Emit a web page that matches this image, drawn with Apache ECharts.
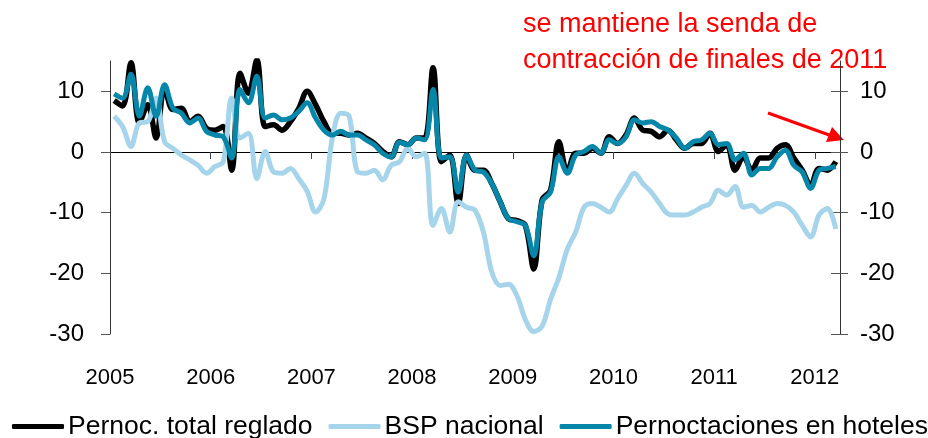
<!DOCTYPE html>
<html>
<head>
<meta charset="utf-8">
<script src="https://cdn.jsdelivr.net/npm/echarts@6/dist/echarts.min.js"></script>
<style>
  html, body { margin: 0; padding: 0; background: #fff; }
  #chart { width: 928px; height: 438px; }
</style>
</head>
<body>
<div id="chart"></div>
<script>
// monthly series, Jan 2005 .. Mar 2012 (tasa interanual, %)
const startYear = 2005;
const yearLabels = [2005, 2006, 2007, 2008, 2009, 2010, 2011, 2012];
const yTicks = [-30, -20, -10, 0, 10];

const pernocTotal = [
  8.5, 7.6, 14.7, 4.8, 7.8, 2.3, 10.6, 7.0, 7.2, 5.0, 5.9, 3.9,
  3.6, 4.2, -3.0, 13.0, 9.7, 15.2, 4.2, 4.5, 3.6, 5.0, 7.2, 10.0,
  7.8, 5.0, 3.1, 3.1, 2.8, 3.1, 2.3, 1.4, 0.1, -0.8, 1.7, 1.2,
  2.3, 2.3, 13.9, -1.6, -0.5, -8.5, -0.5, -3.0, -3.0, -5.2, -8.2, -11.0,
  -11.3, -12.1, -19.3, -7.9, -6.3, 1.7, -3.3, -0.2, -0.2, 0.6, -0.2, 2.5,
  1.4, 2.8, 5.6, 3.6, 3.4, 2.5, 3.6, 2.0, 0.6, 1.4, 1.4, 3.1,
  0.1, 1.2, -3.0, -0.8, -3.0, -1.0, -1.0, 0.6, 1.2, -1.0, -3.0, -5.5,
  -2.7, -3.0, -1.6
];
const bspNacional = [
  5.9, 4.2, 0.9, 4.8, 5.0, 8.9, 1.7, 0.6, -0.5, -1.3, -2.2, -3.5,
  -2.4, -1.6, 8.9, 2.3, 3.1, -4.4, 0.1, -3.3, -3.5, -2.7, -4.4, -6.5,
  -9.9, -7.7, 2.3, 6.4, 5.9, -3.3, -3.5, -3.0, -4.6, -2.2, -1.6, 0.6,
  -0.8, -0.2, -12.1, -9.3, -13.2, -8.2, -9.1, -9.6, -13.2, -19.8, -22.0, -21.8,
  -23.7, -27.6, -29.6, -28.7, -24.3, -20.7, -16.0, -13.2, -9.1, -8.5, -9.1, -9.9,
  -7.7, -5.5, -3.5, -5.2, -6.6, -8.5, -10.2, -10.4, -10.4, -9.9, -9.1, -8.5,
  -6.3, -7.1, -5.7, -9.1, -8.8, -9.9, -9.1, -8.5, -8.8, -9.9, -12.1, -14.0,
  -10.4, -9.3, -12.7
];
const pernocHoteles = [
  9.6, 8.9, 12.8, 5.9, 10.6, 5.9, 11.1, 7.2, 6.4, 4.8, 5.6, 3.4,
  2.8, 2.5, -1.0, 10.3, 8.1, 12.5, 5.6, 6.1, 5.3, 5.6, 6.7, 8.1,
  5.6, 3.6, 2.8, 3.4, 2.8, 2.8, 2.0, 1.2, -0.2, -0.8, 1.6, 1.2,
  2.3, 2.0, 10.3, -1.0, -0.8, -6.6, -0.5, -3.0, -3.3, -5.2, -8.2, -11.0,
  -11.5, -12.1, -17.1, -8.2, -6.6, -0.8, -3.5, -0.5, 0.1, 0.9, -0.2, 2.0,
  1.4, 2.5, 5.3, 4.8, 5.0, 4.2, 3.6, 2.3, 0.6, 1.7, 2.0, 3.1,
  1.2, 1.4, -1.3, -0.2, -3.8, -2.7, -2.7, -0.8, 0.3, -2.2, -3.3, -6.0,
  -3.0, -2.7, -2.4
];

const nMonths = pernocTotal.length;
// mid-month position in decimal years
function toPoints(arr) {
  return arr.map((v, i) => [startYear + (i + 0.5) / 12, v]);
}

const font = "'Liberation Sans', Arial, sans-serif";
const chart = echarts.init(document.getElementById('chart'));

const option = {
  backgroundColor: '#fff',
  animation: false,
  grid: { left: 110, right: 88, top: 61, bottom: 104 },
  xAxis: [
    {
      type: 'value',
      min: startYear,
      max: startYear + nMonths / 12,
      position: 'bottom',
      axisLine: { show: false, onZero: false },
      axisTick: { show: false },
      splitLine: { show: false },
      axisLabel: {
        customValues: yearLabels,
        color: '#000',
        fontSize: 22,
        fontFamily: font,
        margin: 33,
        formatter: v => String(v)
      }
    },
    {
      type: 'value',
      min: startYear,
      max: startYear + nMonths / 12,
      position: 'bottom',
      axisLine: { show: true, onZero: true, lineStyle: { color: '#000', width: 1 } },
      axisTick: { show: true, customValues: yearLabels, length: 7, lineStyle: { color: '#444' } },
      axisLabel: { show: false },
      splitLine: { show: false }
    }
  ],
  yAxis: [
    {
      type: 'value',
      position: 'left',
      min: -30, max: 15, interval: 10,
      axisLine: { show: true, lineStyle: { color: '#333' } },
      axisTick: { show: true, customValues: yTicks, length: 9, lineStyle: { color: '#555' } },
      axisLabel: { customValues: yTicks, color: '#000', fontSize: 24, fontFamily: font, margin: 26 },
      splitLine: { show: false }
    },
    {
      type: 'value',
      position: 'right',
      min: -30, max: 15, interval: 10,
      axisLine: { show: true, lineStyle: { color: '#333' } },
      axisTick: { show: true, customValues: yTicks, length: 8, lineStyle: { color: '#555' } },
      axisLabel: { customValues: yTicks, color: '#000', fontSize: 24, fontFamily: font, margin: 20 },
      splitLine: { show: false }
    },
    {
      type: 'value',
      position: 'right',
      min: -30, max: 15, interval: 10,
      axisLine: { show: false },
      axisTick: { show: true, inside: true, customValues: yTicks, length: 9, lineStyle: { color: '#555' } },
      axisLabel: { show: false },
      splitLine: { show: false }
    }
  ],
  legend: {
    top: 413,
    left: 12,
    padding: 0,
    itemGap: 16,
    itemWidth: 52,
    itemHeight: 5,
    icon: 'roundRect',
    textStyle: { color: '#000', fontSize: 26.5, fontFamily: font, padding: [0, 0, 0, -1] },
    data: ['Pernoc. total reglado', 'BSP nacional', 'Pernoctaciones en hoteles']
  },
  series: [
    {
      name: 'Pernoc. total reglado',
      type: 'line',
      data: toPoints(pernocTotal),
      smooth: 0.35,
      showSymbol: false,
      color: '#000000',
      lineStyle: { width: 5.5, color: '#000000' }
    },
    {
      name: 'BSP nacional',
      type: 'line',
      data: toPoints(bspNacional),
      smooth: 0.35,
      showSymbol: false,
      color: '#A6D4EA',
      lineStyle: { width: 5, color: '#A6D4EA' }
    },
    {
      name: 'Pernoctaciones en hoteles',
      type: 'line',
      data: toPoints(pernocHoteles),
      smooth: 0.35,
      showSymbol: false,
      color: '#0686A8',
      lineStyle: { width: 5, color: '#0686A8' }
    }
  ],
  graphic: [
    {
      type: 'text',
      left: 523, top: 7,
      style: {
        text: 'se mantiene la senda de\ncontracción de finales de 2011',
        fill: '#FF0000',
        font: '27px ' + font,
        lineHeight: 36
      }
    },
    {
      type: 'line',
      shape: { x1: 768, y1: 113, x2: 832, y2: 136 },
      style: { stroke: '#FF0000', lineWidth: 3 }
    },
    {
      type: 'polygon',
      shape: { points: [[844, 140], [826, 142], [832, 127]] },
      style: { fill: '#FF0000' }
    }
  ]
};

chart.setOption(option);
</script>
</body>
</html>
